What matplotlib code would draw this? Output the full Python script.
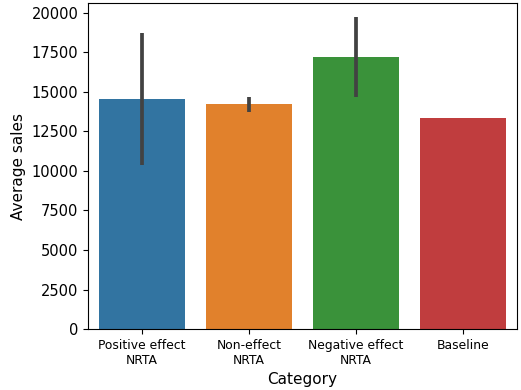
import numpy as np
import matplotlib
matplotlib.use("Agg")
from matplotlib import pyplot as plt

# data
categories = ["Positive effect\nNRTA", "Non-effect\nNRTA", "Negative effect\nNRTA", "Baseline"]
avg_sales = [14530, 14200, 17180, 13360]
ci_low = [10350, 13710, 14660, np.nan]
ci_high = [18700, 14700, 19700, np.nan]
colors = ["#3274a1", "#e1812c", "#3a923a", "#c03d3e"]

fig = plt.figure(figsize=(5.21, 3.90), dpi=100)
ax = fig.add_axes([0.169, 0.156, 0.823, 0.836])

x = np.arange(len(categories))
ax.bar(x, avg_sales, width=0.8, color=colors)
for xi, lo, hi in zip(x, ci_low, ci_high):
    if not np.isnan(lo):
        ax.plot([xi, xi], [lo, hi], color="#424242", lw=2.7, solid_capstyle="butt")

ax.set_xlim(-0.5, len(categories) - 0.5)
ax.set_ylim(0, 20600)
ax.set_xticks(x)
ax.set_xticklabels(categories, fontsize=8.9)
ax.tick_params(axis="y", labelsize=10.5)
ax.set_xlabel("Category", fontsize=11)
ax.set_ylabel("Average sales", fontsize=11)

fig.savefig("out.png", dpi=100)
